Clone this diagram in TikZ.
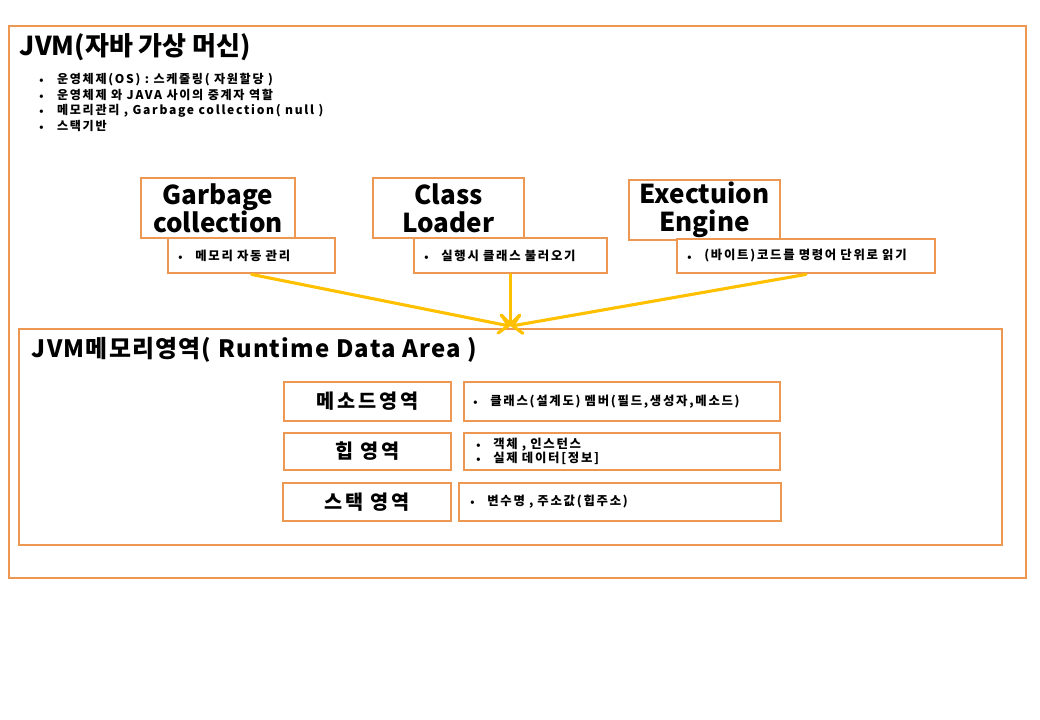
\documentclass[tikz,border=0pt]{standalone}
\usepackage{fontspec}
\setmainfont{Noto Sans CJK KR}
\newfontfamily\widefont{Noto Sans CJK KR}[LetterSpace=14]
\usetikzlibrary{arrows.meta, positioning}

\definecolor{frameorange}{RGB}{237,152,82}
\definecolor{arrowyellow}{RGB}{255,192,0}
\newcommand{\itm}{\makebox[1.1em][l]{\tiny\raisebox{0.25ex}{$\bullet$}}}

\begin{document}
\begin{tikzpicture}[
  x=0.025cm, y=-0.025cm,
  font=\bfseries,
  sz/.style 2 args={minimum width=#1*0.025cm, minimum height=#2*0.025cm},
  frame/.style={draw=frameorange, line width=2pt, inner sep=0pt},
  headbox/.style={frame, fill=white, align=center, font=\fontsize{18.5}{20}\selectfont\bfseries},
  descbox/.style={frame, fill=white, align=left, text width=#1, font=\widefont\fontsize{8.8}{11}\selectfont\bfseries},
  areabox/.style={frame, fill=white, font=\widefont\fontsize{14}{16}\selectfont\bfseries},
  feed/.style={line width=2.2pt, arrowyellow, line cap=round, -{Straight Barb[length=2.2mm, width=4.6mm, line cap=round]}},
]
\useasboundingbox (0,0) rectangle (1040,720);

% outer frame
\node[frame, sz={1017}{552}] (jvm) at (517.5,302) {};
\node[anchor=west, font=\fontsize{18.5}{22}\selectfont\bfseries] (jvmtitle) at (15,47) {JVM(자바 가상 머신)};
\foreach \t [count=\i] in {{운영체제(OS) : 스케줄링( 자원할당 )},
                          {운영체제 와 JAVA 사이의 중계자 역할},
                          {메모리관리 , Garbage  collection( null )},
                          {스택기반}}{
  \node[anchor=west, font=\widefont\fontsize{8.6}{10}\selectfont\bfseries] (os\i) at (34,64+15.6*\i) {\itm\hspace{0.4em}\t};
}

% engine parts
\node[headbox, sz={154}{60}] (gc) at (218,208) {Garbage\\collection};
\node[headbox, sz={151}{60}] (cl) at (448.5,208) {Class\\Loader};
\node[headbox, sz={151}{60}] (ee) at (704.5,210) {Exectuion\\Engine};
\node[descbox=3.675cm, sz={167}{35}] (gcd) at (251.5,255.5) {\itm\hspace{0.3em}메모리 자동 관리};
\node[descbox=4.325cm, sz={193}{35}] (cld) at (510.5,255.5) {\itm\hspace{0.3em}실행시 클래스 불러오기};
\node[descbox=5.95cm, sz={258}{34}] (eed) at (806,256) {\itm\hspace{0.3em}(바이트)코드를 명령어 단위로 읽기};

% runtime data area
\node[frame, sz={983}{216}] (rt) at (510.5,437) {};
\node[anchor=west, font=\fontsize{17}{19}\selectfont\bfseries\addfontfeature{LetterSpace=5}] (rttitle) at (27,350) {JVM메모리영역( Runtime Data Area )};

\node[areabox, sz={167}{39}] (ma) at (367.5,401.5) {메소드영역};
\node[descbox=7.45cm, sz={316}{39}] (mad) at (622,401.5) {\itm\hspace{0.3em}클래스(설계도)  멤버(필드,생성자,메소드)};
\node[areabox, sz={167}{37}] (ha) at (367.5,451.5) {힙 영역};
\node[descbox=7.3cm, sz={316}{37}, font=\widefont\fontsize{8.8}{9.8}\selectfont\bfseries] (had) at (622,451.5) {\itm\hspace{0.3em}객체 , 인스턴스\\ \itm\hspace{0.3em}실제 데이터[정보]};
\node[areabox, sz={168}{38}] (sa) at (367,502) {스택 영역};
\node[descbox=7.5cm, sz={322}{38}] (sad) at (620,502) {\itm\hspace{0.3em}변수명 , 주소값(힙주소)};

% arrows into runtime area
\draw[feed] (gcd.south) -- ([yshift=1pt]rt.north);
\draw[feed] (cld.south) -- ([yshift=1pt]rt.north);
\draw[feed] (eed.south) -- ([yshift=1pt]rt.north);
\end{tikzpicture}
\end{document}
